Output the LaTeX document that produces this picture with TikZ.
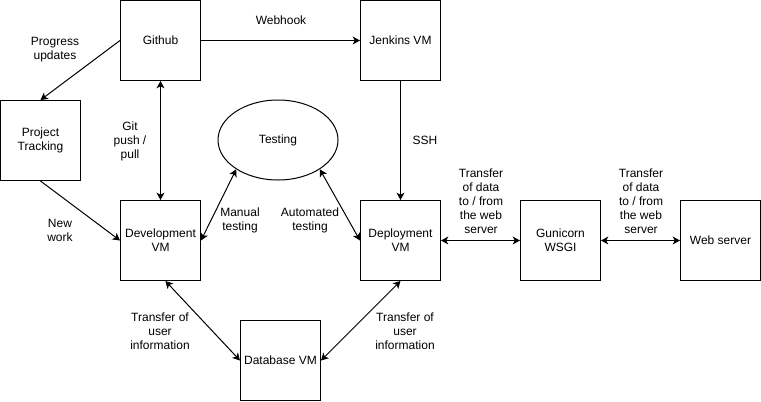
\documentclass[tikz,border=0pt]{standalone}
\usepackage{fontspec}
\setmainfont{Liberation Sans}
\usepackage{tikz}
\usetikzlibrary{arrows.meta, shapes}

\begin{document}
\begin{tikzpicture}[x=0.75pt, y=-0.75pt]
\tikzset{
    box/.style={draw, line width=0.75pt, minimum width=60pt, minimum height=60pt,
        inner sep=0pt, align=center, font=\fontsize{9}{10.5}\selectfont},
    lbl/.style={align=center, inner sep=0pt, font=\fontsize{9}{10.5}\selectfont},
    link/.style={line width=0.75pt, -{Stealth[length=5.5pt, width=6pt, inset=1.5pt]}},
    both/.style={line width=0.75pt, {Stealth[length=5.5pt, width=6pt, inset=1.5pt]}-{Stealth[length=5.5pt, width=6pt, inset=1.5pt]}},
}
  \useasboundingbox (0,0) rectangle (761,401);

  \node[box] (Github) at (160.5,40.5) {Github};
  \node[box] (Jenkins) at (400.5,40.5) {Jenkins VM};
  \node[box] (Tracking) at (40.5,140.5) {Project\\Tracking};
  \node[box] (Dev) at (160.5,240.5) {Development\\VM};
  \node[box] (Deploy) at (400.5,240.5) {Deployment\\VM};
  \node[box] (Gunicorn) at (560.5,240.5) {Gunicorn\\WSGI};
  \node[box] (Web) at (720.5,240.5) {Web server};
  \node[box] (DB) at (280.5,360.5) {Database VM};
  \node[draw, ellipse, line width=0.75pt, minimum width=90pt, minimum height=60pt,
        inner sep=0pt, font=\fontsize{9}{10.5}\selectfont] (Testing) at (278,140) {Testing};

  \draw[link] (Github.west) -- (Tracking.north);
  \draw[link] (Github.east) -- (Jenkins.west);
  \draw[both] (Github.south) -- (Dev.north);
  \draw[link] (Jenkins.south) -- (Deploy.north);
  \draw[link] (Tracking.south) -- (Dev.west);
  \draw[both] (Testing.215) -- (Dev.east);
  \draw[both] (Testing.325) -- (Deploy.west);
  \draw[both] (Dev.-83) -- (DB.west);
  \draw[both] (Deploy.south) -- (DB.east);
  \draw[both] (Deploy.east) -- (Gunicorn.west);
  \draw[both] (Gunicorn.east) -- (Web.west);

  % labels on the links
  \node[lbl] (progress) at (55,50) {Progress\\updates};
  \node[lbl] (webhook) at (281,20) {Webhook};
  \node[lbl] (git) at (130,141) {Git\\push /\\pull};
  \node[lbl] (ssh) at (425,140) {SSH};
  \node[lbl] (newwork) at (60,230) {New\\work};
  \node[lbl] (manual) at (240,220) {Manual\\testing};
  \node[lbl] (auto) at (310,220) {Automated\\testing};
  \node[lbl] (userL) at (160,331) {Transfer of\\user\\information};
  \node[lbl] (userR) at (405,331) {Transfer of\\user\\information};
  \node[lbl] (dataL) at (481,201) {Transfer\\of data\\to / from\\the web\\server};
  \node[lbl] (dataR) at (641,201) {Transfer\\of data\\to / from\\the web\\server};
\end{tikzpicture}
\end{document}
